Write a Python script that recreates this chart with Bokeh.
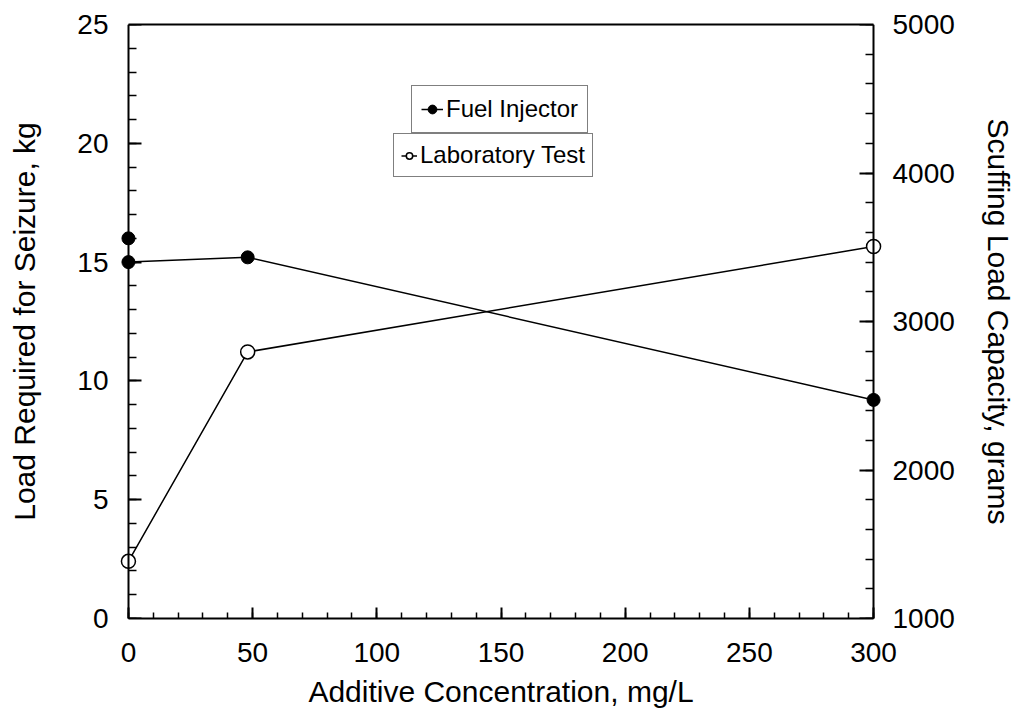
from bokeh.plotting import figure
from bokeh.models import Range1d, LinearAxis, FixedTicker, Legend, LegendItem
from bokeh.embed import file_html
from bokeh.resources import INLINE

# ---- data ----
x_ticks = [0, 50, 100, 150, 200, 250, 300]
x_minor = list(range(0, 301, 10))
left_ticks = [0, 5, 10, 15, 20, 25]
left_minor = list(range(0, 26))
right_ticks = [1000, 2000, 3000, 4000, 5000]
right_minor = list(range(1000, 5001, 200))

fuel_x = [0, 0, 48, 300]
fuel_kg = [16.0, 15.0, 15.2, 9.2]
lab_x = [0, 48, 300]
lab_g = [1385, 2795, 3505]

FONT = "Liberation Sans"
X0, X1 = 0, 300
PAD = 4  # small padding so markers sitting on the axes are not clipped

p = figure(width=1019, height=719, output_backend="svg", toolbar_location=None,
           x_range=Range1d(X0 - PAD, X1 + PAD), y_range=Range1d(0, 25),
           x_axis_location=None, y_axis_location=None,
           min_border_left=118, min_border_right=136,
           min_border_top=24, min_border_bottom=101)
p.extra_y_ranges = {"g": Range1d(1000, 5000)}
p.grid.visible = False
p.outline_line_color = None
p.background_fill_color = "white"
p.border_fill_color = "white"


def tick_axis(positions, length, width, draw_line, **kw):
    """Axis without labels: ticks are drawn as 'minor' ticks only."""
    ax = LinearAxis(**kw)
    ax.ticker = FixedTicker(ticks=[], minor_ticks=positions)
    ax.axis_line_color = "black" if draw_line else None
    ax.axis_line_width = 2
    ax.major_tick_line_color = None
    ax.major_tick_in = 0
    ax.major_tick_out = 0
    ax.minor_tick_line_color = "black"
    ax.minor_tick_line_width = width
    ax.minor_tick_in = length
    ax.minor_tick_out = 0
    return ax


def labels_only(ax, ticks, label, standoff, lab_standoff):
    ax.ticker = FixedTicker(ticks=ticks, minor_ticks=[])
    ax.axis_label = label
    ax.axis_label_text_font = FONT
    ax.axis_label_text_font_size = "30px"
    ax.axis_label_text_font_style = "normal"
    ax.axis_label_text_color = "black"
    ax.axis_label_standoff = lab_standoff
    ax.major_label_text_font = FONT
    ax.major_label_text_font_size = "28px"
    ax.major_label_text_color = "black"
    ax.major_label_standoff = standoff
    ax.axis_line_color = None
    ax.major_tick_line_color = None
    ax.minor_tick_line_color = None
    ax.major_tick_in = 0
    ax.major_tick_out = 0
    ax.minor_tick_in = 0
    ax.minor_tick_out = 0


# bottom axis: line + ticks + labels (sits on the frame edge)
bottom = LinearAxis(bounds=(X0, X1))
labels_only(bottom, x_ticks, "Additive Concentration, mg/L", 24, 10)
bottom.ticker = FixedTicker(ticks=x_ticks, minor_ticks=x_minor)
bottom.axis_line_color = "black"
bottom.axis_line_width = 2
bottom.major_tick_line_color = "black"
bottom.major_tick_line_width = 2
bottom.major_tick_in = 11
bottom.minor_tick_line_color = "black"
bottom.minor_tick_line_width = 1.5
bottom.minor_tick_in = 6
p.add_layout(bottom, "below")

# top border line
p.add_layout(tick_axis([], 0, 1, True, bounds=(X0, X1)), "above")

# left axis: line/ticks at x=0, labels in the side panel
p.add_layout(tick_axis(left_ticks, 13, 2, True, fixed_location=X0), "left")
p.add_layout(tick_axis(left_minor, 8, 1.5, False, fixed_location=X0), "left")
left_lab = LinearAxis()
labels_only(left_lab, left_ticks, "Load Required for Seizure, kg", 10, 33)
p.add_layout(left_lab, "left")

# right axis (grams)
p.add_layout(tick_axis(right_ticks, 14, 2, True, y_range_name="g", fixed_location=X1), "right")
p.add_layout(tick_axis(right_minor, 8, 1.5, False, y_range_name="g", fixed_location=X1), "right")
right_lab = LinearAxis(y_range_name="g")
labels_only(right_lab, right_ticks, "Scuffing Load Capacity, grams", 9, 24)
p.add_layout(right_lab, "right")

# ---- data glyphs ----
fl = p.line(fuel_x[1:], fuel_kg[1:], line_color="black", line_width=1.5)
fs = p.scatter(fuel_x, fuel_kg, marker="circle", size=13,
               fill_color="black", line_color="black")
ll = p.line(lab_x, lab_g, y_range_name="g", line_color="black", line_width=1.5)
ls = p.scatter(lab_x, lab_g, y_range_name="g", marker="circle", size=14,
               fill_color="white", line_color="black", line_width=1.5)


def make_legend(label, renderers, loc, glyph_w, pad, lh):
    lg = Legend(items=[LegendItem(label=label, renderers=renderers)],
                location=loc, orientation="vertical")
    lg.label_text_font = FONT
    lg.label_text_font_size = "24px"
    lg.label_text_color = "black"
    lg.label_standoff = 3
    lg.glyph_width = glyph_w
    lg.glyph_height = lh
    lg.label_height = lh
    lg.padding = pad
    lg.margin = 0
    lg.spacing = 0
    lg.border_line_color = "black"
    lg.border_line_width = 1.5
    lg.background_fill_color = "white"
    lg.background_fill_alpha = 1.0
    return lg


p.add_layout(make_legend("Fuel Injector", [fl, fs], (293, 485), 22, 9, 26), "center")
p.add_layout(make_legend("Laboratory Test", [ll, ls], (275, 441), 16, 7, 27), "center")

open("out.html", "w").write(file_html(p, INLINE))
